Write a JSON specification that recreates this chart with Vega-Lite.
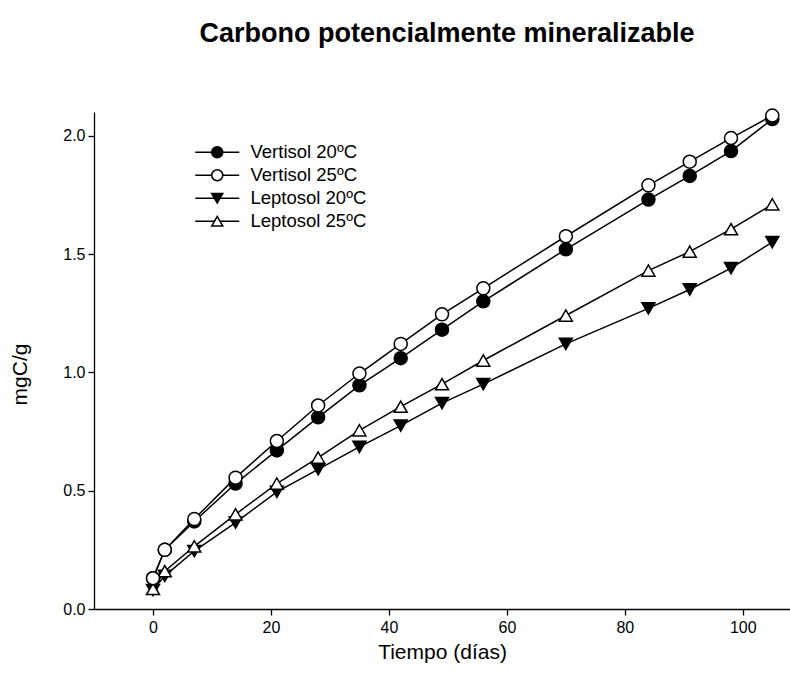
{
  "$schema": "https://vega.github.io/schema/vega-lite/v6.json",
  "autosize": "none",
  "width": 696,
  "height": 497,
  "padding": {"left": 94, "top": 112, "right": 0, "bottom": 81},
  "background": "white",
  "title": {
    "text": "Carbono potencialmente mineralizable",
    "font": "Liberation Sans",
    "fontSize": 27,
    "fontWeight": "bold",
    "color": "black",
    "anchor": "middle",
    "frame": "group",
    "offset": 58,
    "dx": 5
  },
  "config": {
    "view": {"stroke": null},
    "font": "Liberation Sans",
    "axis": {
      "grid": false,
      "domainColor": "black",
      "domainWidth": 1.3,
      "tickColor": "black",
      "tickWidth": 1.3,
      "tickSize": 6,
      "labelFont": "Liberation Sans",
      "labelFontSize": 16,
      "labelColor": "black",
      "titleFont": "Liberation Sans",
      "titleFontSize": 21,
      "titleFontWeight": "normal",
      "titleColor": "black"
    }
  },
  "data": {
    "values": [
      {"t": 0, "serie": "Leptosol 20ºC", "c": 0.08},
      {"t": 2, "serie": "Leptosol 20ºC", "c": 0.14},
      {"t": 7, "serie": "Leptosol 20ºC", "c": 0.245},
      {"t": 14, "serie": "Leptosol 20ºC", "c": 0.365},
      {"t": 21, "serie": "Leptosol 20ºC", "c": 0.495},
      {"t": 28, "serie": "Leptosol 20ºC", "c": 0.59},
      {"t": 35, "serie": "Leptosol 20ºC", "c": 0.685},
      {"t": 42, "serie": "Leptosol 20ºC", "c": 0.775},
      {"t": 49, "serie": "Leptosol 20ºC", "c": 0.87},
      {"t": 56, "serie": "Leptosol 20ºC", "c": 0.95},
      {"t": 70, "serie": "Leptosol 20ºC", "c": 1.12},
      {"t": 84, "serie": "Leptosol 20ºC", "c": 1.27},
      {"t": 91, "serie": "Leptosol 20ºC", "c": 1.35},
      {"t": 98, "serie": "Leptosol 20ºC", "c": 1.44},
      {"t": 105, "serie": "Leptosol 20ºC", "c": 1.55},
      {"t": 0, "serie": "Leptosol 25ºC", "c": 0.085},
      {"t": 2, "serie": "Leptosol 25ºC", "c": 0.16},
      {"t": 7, "serie": "Leptosol 25ºC", "c": 0.265},
      {"t": 14, "serie": "Leptosol 25ºC", "c": 0.4},
      {"t": 21, "serie": "Leptosol 25ºC", "c": 0.53},
      {"t": 28, "serie": "Leptosol 25ºC", "c": 0.64},
      {"t": 35, "serie": "Leptosol 25ºC", "c": 0.755},
      {"t": 42, "serie": "Leptosol 25ºC", "c": 0.855},
      {"t": 49, "serie": "Leptosol 25ºC", "c": 0.95},
      {"t": 56, "serie": "Leptosol 25ºC", "c": 1.05},
      {"t": 70, "serie": "Leptosol 25ºC", "c": 1.24},
      {"t": 84, "serie": "Leptosol 25ºC", "c": 1.43},
      {"t": 91, "serie": "Leptosol 25ºC", "c": 1.51},
      {"t": 98, "serie": "Leptosol 25ºC", "c": 1.605},
      {"t": 105, "serie": "Leptosol 25ºC", "c": 1.71},
      {"t": 0, "serie": "Vertisol 20ºC", "c": 0.13},
      {"t": 2, "serie": "Vertisol 20ºC", "c": 0.25},
      {"t": 7, "serie": "Vertisol 20ºC", "c": 0.37},
      {"t": 14, "serie": "Vertisol 20ºC", "c": 0.53},
      {"t": 21, "serie": "Vertisol 20ºC", "c": 0.67},
      {"t": 28, "serie": "Vertisol 20ºC", "c": 0.81},
      {"t": 35, "serie": "Vertisol 20ºC", "c": 0.945},
      {"t": 42, "serie": "Vertisol 20ºC", "c": 1.06},
      {"t": 49, "serie": "Vertisol 20ºC", "c": 1.18},
      {"t": 56, "serie": "Vertisol 20ºC", "c": 1.3},
      {"t": 70, "serie": "Vertisol 20ºC", "c": 1.52},
      {"t": 84, "serie": "Vertisol 20ºC", "c": 1.73},
      {"t": 91, "serie": "Vertisol 20ºC", "c": 1.83},
      {"t": 98, "serie": "Vertisol 20ºC", "c": 1.935},
      {"t": 105, "serie": "Vertisol 20ºC", "c": 2.07},
      {"t": 0, "serie": "Vertisol 25ºC", "c": 0.13},
      {"t": 2, "serie": "Vertisol 25ºC", "c": 0.25},
      {"t": 7, "serie": "Vertisol 25ºC", "c": 0.38},
      {"t": 14, "serie": "Vertisol 25ºC", "c": 0.555},
      {"t": 21, "serie": "Vertisol 25ºC", "c": 0.71},
      {"t": 28, "serie": "Vertisol 25ºC", "c": 0.86},
      {"t": 35, "serie": "Vertisol 25ºC", "c": 0.995},
      {"t": 42, "serie": "Vertisol 25ºC", "c": 1.12},
      {"t": 49, "serie": "Vertisol 25ºC", "c": 1.245},
      {"t": 56, "serie": "Vertisol 25ºC", "c": 1.355},
      {"t": 70, "serie": "Vertisol 25ºC", "c": 1.575},
      {"t": 84, "serie": "Vertisol 25ºC", "c": 1.79},
      {"t": 91, "serie": "Vertisol 25ºC", "c": 1.89},
      {"t": 98, "serie": "Vertisol 25ºC", "c": 1.99},
      {"t": 105, "serie": "Vertisol 25ºC", "c": 2.085}
    ]
  },
  "encoding": {
    "x": {
      "field": "t",
      "type": "quantitative",
      "scale": {"domain": [-10, 108], "nice": false, "zero": false},
      "axis": {"values": [0, 20, 40, 60, 80, 100], "title": "Tiempo (días)", "labelPadding": 4, "titlePadding": 6, "labelFlush": false}
    },
    "y": {
      "field": "c",
      "type": "quantitative",
      "scale": {"domain": [0, 2.1], "nice": false},
      "axis": {"values": [0, 0.5, 1, 1.5, 2], "format": ".1f", "title": "mgC/g", "labelPadding": 3, "titlePadding": 32, "titleY": 262, "labelFlush": false}
    }
  },
  "layer": [
    {
      "mark": {"type": "line", "strokeWidth": 1.5},
      "encoding": {
        "stroke": {
          "field": "serie",
          "type": "nominal",
          "sort": ["Vertisol 20ºC", "Vertisol 25ºC", "Leptosol 20ºC", "Leptosol 25ºC"],
          "scale": {"range": ["black", "black", "black", "black"]},
          "legend": {
            "orient": "none",
            "legendX": 114,
            "legendY": 31,
            "title": null,
            "padding": 0,
            "zindex": 0,
            "symbolType": "M-4,0L4,0",
            "symbolSize": 121,
            "symbolStrokeWidth": 1.5,
            "symbolStrokeColor": "black",
            "symbolFillColor": "transparent",
            "labelFontSize": 18.5,
            "labelFont": "Liberation Sans",
            "labelOpacity": 0,
            "labelOffset": 24,
            "rowPadding": 4
          }
        }
      }
    },
    {
      "mark": {"type": "point", "filled": true, "size": 169, "stroke": "black", "strokeWidth": 1.5, "opacity": 1},
      "encoding": {
        "shape": {
          "field": "serie",
          "type": "nominal",
          "scale": {"domain": ["Vertisol 20ºC", "Vertisol 25ºC", "Leptosol 20ºC", "Leptosol 25ºC"], "range": ["circle", "circle", "triangle-down", "triangle-up"]},
          "legend": {
            "orient": "none",
            "legendX": 114,
            "legendY": 31,
            "title": null,
            "padding": 0,
            "zindex": 1,
            "symbolSize": 121,
            "symbolStrokeWidth": 1.5,
            "symbolStrokeColor": "black",
            "labelFontSize": 18.5,
            "labelFont": "Liberation Sans",
            "labelColor": "black",
            "labelOffset": 24,
            "rowPadding": 4,
            "symbolOpacity": 1,
            "encode": {"symbols": {"update": {"stroke": {"value": "black"}, "strokeWidth": {"value": 1.5}, "opacity": {"value": 1}}}}
          }
        },
        "fill": {
          "field": "serie",
          "type": "nominal",
          "scale": {"domain": ["Vertisol 20ºC", "Vertisol 25ºC", "Leptosol 20ºC", "Leptosol 25ºC"], "range": ["black", "white", "black", "white"]},
          "legend": {
            "orient": "none",
            "legendX": 114,
            "legendY": 31,
            "title": null,
            "padding": 0,
            "zindex": 1,
            "symbolSize": 121,
            "symbolStrokeWidth": 1.5,
            "symbolStrokeColor": "black",
            "labelFontSize": 18.5,
            "labelFont": "Liberation Sans",
            "labelColor": "black",
            "labelOffset": 24,
            "rowPadding": 4,
            "symbolOpacity": 1,
            "encode": {"symbols": {"update": {"stroke": {"value": "black"}, "strokeWidth": {"value": 1.5}, "opacity": {"value": 1}}}}
          }
        }
      }
    }
  ]
}
